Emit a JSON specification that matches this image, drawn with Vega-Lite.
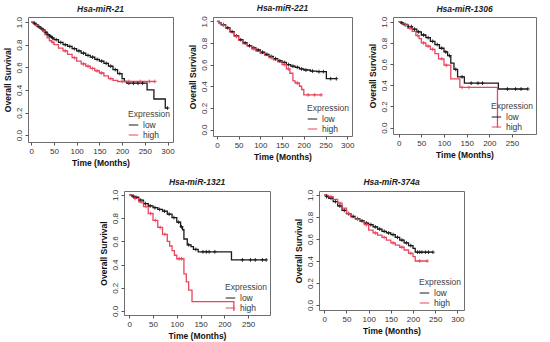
{
  "$schema": "https://vega.github.io/schema/vega-lite/v6.json",
  "padding": {"left": 2, "top": 3, "right": 4, "bottom": 2},
  "background": "white",
  "config": {
    "font": "Liberation Sans",
    "view": {"stroke": "#6e6e6e", "strokeWidth": 1},
    "axis": {"labelFont": "Liberation Sans", "labelFontSize": 8, "labelColor": "#333", "titleFont": "Liberation Sans", "titleFontSize": 8.5, "titleFontWeight": "bold", "titleColor": "#111", "domain": false, "grid": false, "tickColor": "#555", "tickSize": 3, "labelPadding": 2, "titlePadding": 3, "labelOverlap": false, "labelFlush": false},
    "axisY": {"labelAngle": 270, "labelAlign": "center", "labelBaseline": "bottom"},
    "title": {"font": "Liberation Sans", "fontSize": 8.5, "fontStyle": "italic", "fontWeight": "bold", "color": "#222", "offset": 3},
    "legend": {"orient": "bottom-right", "titleFontWeight": "normal", "titleColor": "#444", "titleFontSize": 8.5, "labelFontSize": 8.5, "labelColor": "#333", "symbolType": "stroke", "symbolSize": 90, "symbolStrokeWidth": 1, "padding": 1, "offset": 1, "rowPadding": 0, "labelFont": "Liberation Sans", "titleFont": "Liberation Sans", "titlePadding": 1}
  },
  "datasets": {
    "curves": [
      {"p":1,"g":"low","t":0,"s":1},{"p":1,"g":"low","t":5,"s":0.99},{"p":1,"g":"low","t":10,"s":0.975},{"p":1,"g":"low","t":15,"s":0.96},{"p":1,"g":"low","t":20,"s":0.945},{"p":1,"g":"low","t":25,"s":0.93},{"p":1,"g":"low","t":30,"s":0.91},{"p":1,"g":"low","t":35,"s":0.89},{"p":1,"g":"low","t":40,"s":0.875},{"p":1,"g":"low","t":45,"s":0.86},{"p":1,"g":"low","t":50,"s":0.845},{"p":1,"g":"low","t":60,"s":0.82},{"p":1,"g":"low","t":70,"s":0.8},{"p":1,"g":"low","t":80,"s":0.785},{"p":1,"g":"low","t":90,"s":0.765},{"p":1,"g":"low","t":100,"s":0.745},{"p":1,"g":"low","t":110,"s":0.725},{"p":1,"g":"low","t":120,"s":0.705},{"p":1,"g":"low","t":130,"s":0.69},{"p":1,"g":"low","t":140,"s":0.67},{"p":1,"g":"low","t":150,"s":0.655},{"p":1,"g":"low","t":160,"s":0.635},{"p":1,"g":"low","t":170,"s":0.61},{"p":1,"g":"low","t":180,"s":0.58},{"p":1,"g":"low","t":190,"s":0.545},{"p":1,"g":"low","t":200,"s":0.5},{"p":1,"g":"low","t":205,"s":0.475},{"p":1,"g":"low","t":210,"s":0.46},{"p":1,"g":"low","t":255,"s":0.4},{"p":1,"g":"low","t":270,"s":0.32},{"p":1,"g":"low","t":295,"s":0.24},{"p":1,"g":"low","t":300,"s":0.24},
      {"p":1,"g":"high","t":0,"s":1},{"p":1,"g":"high","t":5,"s":0.985},{"p":1,"g":"high","t":10,"s":0.97},{"p":1,"g":"high","t":15,"s":0.955},{"p":1,"g":"high","t":20,"s":0.94},{"p":1,"g":"high","t":25,"s":0.92},{"p":1,"g":"high","t":30,"s":0.89},{"p":1,"g":"high","t":35,"s":0.86},{"p":1,"g":"high","t":40,"s":0.835},{"p":1,"g":"high","t":45,"s":0.82},{"p":1,"g":"high","t":50,"s":0.8},{"p":1,"g":"high","t":60,"s":0.77},{"p":1,"g":"high","t":70,"s":0.745},{"p":1,"g":"high","t":80,"s":0.715},{"p":1,"g":"high","t":90,"s":0.685},{"p":1,"g":"high","t":100,"s":0.655},{"p":1,"g":"high","t":110,"s":0.63},{"p":1,"g":"high","t":120,"s":0.61},{"p":1,"g":"high","t":130,"s":0.59},{"p":1,"g":"high","t":140,"s":0.57},{"p":1,"g":"high","t":150,"s":0.55},{"p":1,"g":"high","t":160,"s":0.525},{"p":1,"g":"high","t":170,"s":0.5},{"p":1,"g":"high","t":180,"s":0.485},{"p":1,"g":"high","t":190,"s":0.475},{"p":1,"g":"high","t":272,"s":0.475},
      {"p":2,"g":"low","t":0,"s":1},{"p":2,"g":"low","t":5,"s":0.985},{"p":2,"g":"low","t":10,"s":0.97},{"p":2,"g":"low","t":20,"s":0.94},{"p":2,"g":"low","t":30,"s":0.905},{"p":2,"g":"low","t":40,"s":0.865},{"p":2,"g":"low","t":50,"s":0.83},{"p":2,"g":"low","t":60,"s":0.8},{"p":2,"g":"low","t":70,"s":0.775},{"p":2,"g":"low","t":80,"s":0.755},{"p":2,"g":"low","t":90,"s":0.735},{"p":2,"g":"low","t":100,"s":0.715},{"p":2,"g":"low","t":110,"s":0.695},{"p":2,"g":"low","t":120,"s":0.675},{"p":2,"g":"low","t":130,"s":0.655},{"p":2,"g":"low","t":140,"s":0.635},{"p":2,"g":"low","t":150,"s":0.62},{"p":2,"g":"low","t":160,"s":0.6},{"p":2,"g":"low","t":170,"s":0.585},{"p":2,"g":"low","t":180,"s":0.575},{"p":2,"g":"low","t":190,"s":0.56},{"p":2,"g":"low","t":200,"s":0.55},{"p":2,"g":"low","t":215,"s":0.54},{"p":2,"g":"low","t":230,"s":0.535},{"p":2,"g":"low","t":252,"s":0.47},{"p":2,"g":"low","t":275,"s":0.47},
      {"p":2,"g":"high","t":0,"s":1},{"p":2,"g":"high","t":5,"s":0.98},{"p":2,"g":"high","t":10,"s":0.965},{"p":2,"g":"high","t":20,"s":0.935},{"p":2,"g":"high","t":30,"s":0.9},{"p":2,"g":"high","t":40,"s":0.86},{"p":2,"g":"high","t":50,"s":0.825},{"p":2,"g":"high","t":60,"s":0.795},{"p":2,"g":"high","t":70,"s":0.77},{"p":2,"g":"high","t":80,"s":0.745},{"p":2,"g":"high","t":90,"s":0.725},{"p":2,"g":"high","t":100,"s":0.705},{"p":2,"g":"high","t":110,"s":0.685},{"p":2,"g":"high","t":120,"s":0.665},{"p":2,"g":"high","t":130,"s":0.645},{"p":2,"g":"high","t":140,"s":0.625},{"p":2,"g":"high","t":150,"s":0.6},{"p":2,"g":"high","t":160,"s":0.56},{"p":2,"g":"high","t":168,"s":0.52},{"p":2,"g":"high","t":175,"s":0.45},{"p":2,"g":"high","t":180,"s":0.43},{"p":2,"g":"high","t":190,"s":0.4},{"p":2,"g":"high","t":195,"s":0.37},{"p":2,"g":"high","t":200,"s":0.32},{"p":2,"g":"high","t":240,"s":0.32},
      {"p":3,"g":"low","t":0,"s":1},{"p":3,"g":"low","t":5,"s":0.99},{"p":3,"g":"low","t":10,"s":0.975},{"p":3,"g":"low","t":20,"s":0.955},{"p":3,"g":"low","t":30,"s":0.93},{"p":3,"g":"low","t":40,"s":0.905},{"p":3,"g":"low","t":50,"s":0.875},{"p":3,"g":"low","t":60,"s":0.85},{"p":3,"g":"low","t":70,"s":0.815},{"p":3,"g":"low","t":80,"s":0.785},{"p":3,"g":"low","t":90,"s":0.75},{"p":3,"g":"low","t":100,"s":0.715},{"p":3,"g":"low","t":108,"s":0.68},{"p":3,"g":"low","t":115,"s":0.61},{"p":3,"g":"low","t":122,"s":0.55},{"p":3,"g":"low","t":130,"s":0.48},{"p":3,"g":"low","t":145,"s":0.42},{"p":3,"g":"low","t":220,"s":0.365},{"p":3,"g":"low","t":285,"s":0.365},
      {"p":3,"g":"high","t":0,"s":1},{"p":3,"g":"high","t":5,"s":0.985},{"p":3,"g":"high","t":10,"s":0.97},{"p":3,"g":"high","t":20,"s":0.94},{"p":3,"g":"high","t":30,"s":0.91},{"p":3,"g":"high","t":38,"s":0.87},{"p":3,"g":"high","t":45,"s":0.84},{"p":3,"g":"high","t":50,"s":0.8},{"p":3,"g":"high","t":60,"s":0.77},{"p":3,"g":"high","t":70,"s":0.74},{"p":3,"g":"high","t":80,"s":0.7},{"p":3,"g":"high","t":88,"s":0.65},{"p":3,"g":"high","t":100,"s":0.59},{"p":3,"g":"high","t":115,"s":0.46},{"p":3,"g":"high","t":135,"s":0.38},{"p":3,"g":"high","t":218,"s":0.0},
      {"p":4,"g":"low","t":0,"s":1},{"p":4,"g":"low","t":5,"s":0.99},{"p":4,"g":"low","t":10,"s":0.98},{"p":4,"g":"low","t":20,"s":0.955},{"p":4,"g":"low","t":30,"s":0.925},{"p":4,"g":"low","t":40,"s":0.905},{"p":4,"g":"low","t":50,"s":0.89},{"p":4,"g":"low","t":60,"s":0.875},{"p":4,"g":"low","t":70,"s":0.86},{"p":4,"g":"low","t":80,"s":0.835},{"p":4,"g":"low","t":90,"s":0.805},{"p":4,"g":"low","t":100,"s":0.765},{"p":4,"g":"low","t":108,"s":0.725},{"p":4,"g":"low","t":112,"s":0.7},{"p":4,"g":"low","t":115,"s":0.62},{"p":4,"g":"low","t":122,"s":0.57},{"p":4,"g":"low","t":130,"s":0.555},{"p":4,"g":"low","t":135,"s":0.53},{"p":4,"g":"low","t":145,"s":0.51},{"p":4,"g":"low","t":215,"s":0.44},{"p":4,"g":"low","t":288,"s":0.44},
      {"p":4,"g":"high","t":0,"s":1},{"p":4,"g":"high","t":5,"s":0.985},{"p":4,"g":"high","t":10,"s":0.97},{"p":4,"g":"high","t":20,"s":0.94},{"p":4,"g":"high","t":30,"s":0.9},{"p":4,"g":"high","t":40,"s":0.84},{"p":4,"g":"high","t":50,"s":0.78},{"p":4,"g":"high","t":60,"s":0.72},{"p":4,"g":"high","t":70,"s":0.66},{"p":4,"g":"high","t":80,"s":0.6},{"p":4,"g":"high","t":85,"s":0.56},{"p":4,"g":"high","t":90,"s":0.52},{"p":4,"g":"high","t":95,"s":0.48},{"p":4,"g":"high","t":100,"s":0.45},{"p":4,"g":"high","t":115,"s":0.32},{"p":4,"g":"high","t":120,"s":0.25},{"p":4,"g":"high","t":125,"s":0.18},{"p":4,"g":"high","t":132,"s":0.08},{"p":4,"g":"high","t":220,"s":0.0},
      {"p":5,"g":"low","t":0,"s":1},{"p":5,"g":"low","t":5,"s":0.985},{"p":5,"g":"low","t":10,"s":0.97},{"p":5,"g":"low","t":20,"s":0.94},{"p":5,"g":"low","t":30,"s":0.9},{"p":5,"g":"low","t":40,"s":0.86},{"p":5,"g":"low","t":50,"s":0.83},{"p":5,"g":"low","t":60,"s":0.805},{"p":5,"g":"low","t":70,"s":0.785},{"p":5,"g":"low","t":80,"s":0.765},{"p":5,"g":"low","t":90,"s":0.745},{"p":5,"g":"low","t":100,"s":0.73},{"p":5,"g":"low","t":110,"s":0.71},{"p":5,"g":"low","t":120,"s":0.69},{"p":5,"g":"low","t":130,"s":0.67},{"p":5,"g":"low","t":140,"s":0.655},{"p":5,"g":"low","t":150,"s":0.64},{"p":5,"g":"low","t":160,"s":0.615},{"p":5,"g":"low","t":170,"s":0.59},{"p":5,"g":"low","t":180,"s":0.565},{"p":5,"g":"low","t":190,"s":0.54},{"p":5,"g":"low","t":200,"s":0.515},{"p":5,"g":"low","t":205,"s":0.48},{"p":5,"g":"low","t":245,"s":0.48},
      {"p":5,"g":"high","t":0,"s":1},{"p":5,"g":"high","t":5,"s":0.995},{"p":5,"g":"high","t":10,"s":0.985},{"p":5,"g":"high","t":20,"s":0.96},{"p":5,"g":"high","t":30,"s":0.925},{"p":5,"g":"high","t":40,"s":0.88},{"p":5,"g":"high","t":50,"s":0.83},{"p":5,"g":"high","t":60,"s":0.8},{"p":5,"g":"high","t":70,"s":0.78},{"p":5,"g":"high","t":80,"s":0.76},{"p":5,"g":"high","t":90,"s":0.73},{"p":5,"g":"high","t":100,"s":0.68},{"p":5,"g":"high","t":110,"s":0.655},{"p":5,"g":"high","t":120,"s":0.635},{"p":5,"g":"high","t":130,"s":0.615},{"p":5,"g":"high","t":140,"s":0.59},{"p":5,"g":"high","t":150,"s":0.565},{"p":5,"g":"high","t":160,"s":0.545},{"p":5,"g":"high","t":170,"s":0.525},{"p":5,"g":"high","t":180,"s":0.5},{"p":5,"g":"high","t":190,"s":0.47},{"p":5,"g":"high","t":200,"s":0.44},{"p":5,"g":"high","t":205,"s":0.4},{"p":5,"g":"high","t":232,"s":0.4}
    ],
    "censors": [
      {"p":1,"g":"low","t":7,"s":0.99},{"p":1,"g":"low","t":12,"s":0.975},{"p":1,"g":"low","t":17,"s":0.96},{"p":1,"g":"low","t":22,"s":0.945},{"p":1,"g":"low","t":27,"s":0.93},{"p":1,"g":"low","t":32,"s":0.91},{"p":1,"g":"low","t":37,"s":0.89},{"p":1,"g":"low","t":42,"s":0.875},{"p":1,"g":"low","t":47,"s":0.86},{"p":1,"g":"low","t":55,"s":0.845},{"p":1,"g":"low","t":65,"s":0.82},{"p":1,"g":"low","t":75,"s":0.8},{"p":1,"g":"low","t":85,"s":0.785},{"p":1,"g":"low","t":95,"s":0.765},{"p":1,"g":"low","t":105,"s":0.745},{"p":1,"g":"low","t":115,"s":0.725},{"p":1,"g":"low","t":125,"s":0.705},{"p":1,"g":"low","t":135,"s":0.69},{"p":1,"g":"low","t":145,"s":0.67},{"p":1,"g":"low","t":155,"s":0.655},{"p":1,"g":"low","t":165,"s":0.635},{"p":1,"g":"low","t":175,"s":0.61},{"p":1,"g":"low","t":185,"s":0.58},{"p":1,"g":"low","t":195,"s":0.545},{"p":1,"g":"low","t":215,"s":0.46},{"p":1,"g":"low","t":225,"s":0.46},{"p":1,"g":"low","t":235,"s":0.46},{"p":1,"g":"low","t":245,"s":0.46},{"p":1,"g":"low","t":300,"s":0.24},
      {"p":1,"g":"high","t":12,"s":0.97},{"p":1,"g":"high","t":28,"s":0.92},{"p":1,"g":"high","t":48,"s":0.82},{"p":1,"g":"high","t":75,"s":0.745},{"p":1,"g":"high","t":95,"s":0.685},{"p":1,"g":"high","t":115,"s":0.63},{"p":1,"g":"high","t":125,"s":0.61},{"p":1,"g":"high","t":135,"s":0.59},{"p":1,"g":"high","t":145,"s":0.57},{"p":1,"g":"high","t":155,"s":0.55},{"p":1,"g":"high","t":175,"s":0.5},{"p":1,"g":"high","t":200,"s":0.475},{"p":1,"g":"high","t":215,"s":0.475},{"p":1,"g":"high","t":240,"s":0.475},{"p":1,"g":"high","t":260,"s":0.475},{"p":1,"g":"high","t":272,"s":0.475},
      {"p":2,"g":"low","t":15,"s":0.97},{"p":2,"g":"low","t":25,"s":0.94},{"p":2,"g":"low","t":35,"s":0.905},{"p":2,"g":"low","t":45,"s":0.865},{"p":2,"g":"low","t":55,"s":0.83},{"p":2,"g":"low","t":65,"s":0.8},{"p":2,"g":"low","t":75,"s":0.775},{"p":2,"g":"low","t":85,"s":0.755},{"p":2,"g":"low","t":95,"s":0.735},{"p":2,"g":"low","t":105,"s":0.715},{"p":2,"g":"low","t":115,"s":0.695},{"p":2,"g":"low","t":125,"s":0.675},{"p":2,"g":"low","t":135,"s":0.655},{"p":2,"g":"low","t":145,"s":0.635},{"p":2,"g":"low","t":155,"s":0.62},{"p":2,"g":"low","t":165,"s":0.6},{"p":2,"g":"low","t":175,"s":0.585},{"p":2,"g":"low","t":185,"s":0.575},{"p":2,"g":"low","t":195,"s":0.56},{"p":2,"g":"low","t":205,"s":0.55},{"p":2,"g":"low","t":220,"s":0.54},{"p":2,"g":"low","t":235,"s":0.535},{"p":2,"g":"low","t":245,"s":0.535},{"p":2,"g":"low","t":262,"s":0.47},{"p":2,"g":"low","t":275,"s":0.47},
      {"p":2,"g":"high","t":15,"s":0.965},{"p":2,"g":"high","t":45,"s":0.86},{"p":2,"g":"high","t":85,"s":0.745},{"p":2,"g":"high","t":125,"s":0.665},{"p":2,"g":"high","t":155,"s":0.6},{"p":2,"g":"high","t":165,"s":0.56},{"p":2,"g":"high","t":185,"s":0.43},{"p":2,"g":"high","t":210,"s":0.32},{"p":2,"g":"high","t":225,"s":0.32},{"p":2,"g":"high","t":240,"s":0.32},
      {"p":3,"g":"low","t":7,"s":0.99},{"p":3,"g":"low","t":14,"s":0.975},{"p":3,"g":"low","t":22,"s":0.955},{"p":3,"g":"low","t":28,"s":0.955},{"p":3,"g":"low","t":35,"s":0.93},{"p":3,"g":"low","t":44,"s":0.905},{"p":3,"g":"low","t":55,"s":0.875},{"p":3,"g":"low","t":65,"s":0.85},{"p":3,"g":"low","t":75,"s":0.815},{"p":3,"g":"low","t":85,"s":0.785},{"p":3,"g":"low","t":95,"s":0.75},{"p":3,"g":"low","t":104,"s":0.715},{"p":3,"g":"low","t":112,"s":0.68},{"p":3,"g":"low","t":126,"s":0.55},{"p":3,"g":"low","t":140,"s":0.48},{"p":3,"g":"low","t":160,"s":0.42},{"p":3,"g":"low","t":175,"s":0.42},{"p":3,"g":"low","t":185,"s":0.42},{"p":3,"g":"low","t":240,"s":0.365},{"p":3,"g":"low","t":258,"s":0.365},{"p":3,"g":"low","t":270,"s":0.365},{"p":3,"g":"low","t":285,"s":0.365},
      {"p":3,"g":"high","t":15,"s":0.97},{"p":3,"g":"high","t":25,"s":0.94},{"p":3,"g":"high","t":42,"s":0.87},{"p":3,"g":"high","t":55,"s":0.8},{"p":3,"g":"high","t":65,"s":0.77},{"p":3,"g":"high","t":75,"s":0.74},{"p":3,"g":"high","t":95,"s":0.65},{"p":3,"g":"high","t":105,"s":0.59},{"p":3,"g":"high","t":140,"s":0.38},{"p":3,"g":"high","t":155,"s":0.38},
      {"p":4,"g":"low","t":8,"s":0.99},{"p":4,"g":"low","t":14,"s":0.98},{"p":4,"g":"low","t":24,"s":0.955},{"p":4,"g":"low","t":34,"s":0.925},{"p":4,"g":"low","t":44,"s":0.905},{"p":4,"g":"low","t":54,"s":0.89},{"p":4,"g":"low","t":64,"s":0.875},{"p":4,"g":"low","t":74,"s":0.86},{"p":4,"g":"low","t":84,"s":0.835},{"p":4,"g":"low","t":94,"s":0.805},{"p":4,"g":"low","t":104,"s":0.765},{"p":4,"g":"low","t":110,"s":0.725},{"p":4,"g":"low","t":125,"s":0.57},{"p":4,"g":"low","t":140,"s":0.53},{"p":4,"g":"low","t":155,"s":0.51},{"p":4,"g":"low","t":162,"s":0.51},{"p":4,"g":"low","t":168,"s":0.51},{"p":4,"g":"low","t":180,"s":0.51},{"p":4,"g":"low","t":238,"s":0.44},{"p":4,"g":"low","t":255,"s":0.44},{"p":4,"g":"low","t":265,"s":0.44},{"p":4,"g":"low","t":280,"s":0.44},{"p":4,"g":"low","t":288,"s":0.44},
      {"p":4,"g":"high","t":12,"s":0.97},{"p":4,"g":"high","t":25,"s":0.94},{"p":4,"g":"high","t":35,"s":0.9},{"p":4,"g":"high","t":45,"s":0.84},{"p":4,"g":"high","t":55,"s":0.78},{"p":4,"g":"high","t":65,"s":0.72},{"p":4,"g":"high","t":75,"s":0.66},{"p":4,"g":"high","t":105,"s":0.45},{"p":4,"g":"high","t":110,"s":0.45},
      {"p":5,"g":"low","t":5,"s":0.985},{"p":5,"g":"low","t":15,"s":0.97},{"p":5,"g":"low","t":25,"s":0.94},{"p":5,"g":"low","t":35,"s":0.9},{"p":5,"g":"low","t":45,"s":0.86},{"p":5,"g":"low","t":55,"s":0.83},{"p":5,"g":"low","t":65,"s":0.805},{"p":5,"g":"low","t":75,"s":0.785},{"p":5,"g":"low","t":85,"s":0.765},{"p":5,"g":"low","t":95,"s":0.745},{"p":5,"g":"low","t":105,"s":0.73},{"p":5,"g":"low","t":115,"s":0.71},{"p":5,"g":"low","t":125,"s":0.69},{"p":5,"g":"low","t":135,"s":0.67},{"p":5,"g":"low","t":145,"s":0.655},{"p":5,"g":"low","t":155,"s":0.64},{"p":5,"g":"low","t":165,"s":0.615},{"p":5,"g":"low","t":175,"s":0.59},{"p":5,"g":"low","t":185,"s":0.565},{"p":5,"g":"low","t":195,"s":0.54},{"p":5,"g":"low","t":210,"s":0.48},{"p":5,"g":"low","t":215,"s":0.48},{"p":5,"g":"low","t":220,"s":0.48},{"p":5,"g":"low","t":228,"s":0.48},{"p":5,"g":"low","t":235,"s":0.48},{"p":5,"g":"low","t":245,"s":0.48},
      {"p":5,"g":"high","t":15,"s":0.985},{"p":5,"g":"high","t":35,"s":0.925},{"p":5,"g":"high","t":55,"s":0.83},{"p":5,"g":"high","t":75,"s":0.78},{"p":5,"g":"high","t":95,"s":0.73},{"p":5,"g":"high","t":115,"s":0.655},{"p":5,"g":"high","t":135,"s":0.615},{"p":5,"g":"high","t":155,"s":0.565},{"p":5,"g":"high","t":175,"s":0.525},{"p":5,"g":"high","t":195,"s":0.47},{"p":5,"g":"high","t":215,"s":0.4},{"p":5,"g":"high","t":232,"s":0.4}
    ],
    "pvals": [
      {"p":1,"pv":"=0.0002"},{"p":2,"pv":"=0.005"},{"p":3,"pv":"=0.003"},{"p":4,"pv":"=0.051"},{"p":5,"pv":"=0.004"}
    ]
  },
  "spacing": 10,
  "resolve": {"scale": {"color": "independent", "x": "independent", "y": "independent"}, "legend": {"color": "independent"}},
  "vconcat": [
    {
      "spacing": 12,
      "resolve": {"scale": {"color": "independent", "x": "independent", "y": "independent"}, "legend": {"color": "independent"}},
      "hconcat": [
        {
          "width": 145, "height": 125,
          "title": "Hsa-miR-21",
          "encoding": {
            "x": {"field": "t", "type": "quantitative", "title": "Time (Months)", "scale": {"domain": [-7, 312], "nice": false, "zero": false}, "axis": {"values": [0,50,100,150,200,250,300], "labelOverlap": false}},
            "y": {"field": "s", "type": "quantitative", "title": "Overall Survival", "scale": {"domain": [-0.06, 1.045], "nice": false}, "axis": {"values": [0,0.2,0.4,0.6,0.8,1], "format": ".1f", "labelOverlap": false}}
          },
          "layer": [
            {"data": {"name": "curves"}, "transform": [{"filter": "datum.p == 1"}], "mark": {"type": "line", "interpolate": "step-after", "strokeWidth": 1.3},
             "encoding": {"color": {"field": "g", "type": "nominal", "title": "Expression", "scale": {"domain": ["low", "high"], "range": ["#1a1a1a", "#e8475f"]}}}},
            {"data": {"name": "censors"}, "transform": [{"filter": "datum.p == 1"}], "mark": {"type": "point", "shape": "M-1,0H1M0,-1V1", "size": 14, "filled": false, "strokeWidth": 0.9, "opacity": 1},
             "encoding": {"color": {"condition": {"test": "datum.g == 'high'", "value": "#e8475f"}, "value": "#1a1a1a"}}},
            {"data": {"name": "pvals"}, "transform": [{"filter": "datum.p == 1"}], "mark": {"type": "text", "text": "p", "fontStyle": "italic", "fontWeight": "bold", "fontSize": 10, "align": "right", "color": "#111"},
             "encoding": {"x": {"datum": 210}, "y": {"datum": 0.92}}},
            {"data": {"name": "pvals"}, "transform": [{"filter": "datum.p == 1"}], "mark": {"type": "text", "fontWeight": "bold", "fontSize": 10, "align": "left", "color": "#111"},
             "encoding": {"x": {"datum": 210}, "y": {"datum": 0.92}, "text": {"field": "pv"}}}
          ]
        },
        {
          "width": 139, "height": 119,
          "title": "Hsa-miR-221",
          "encoding": {
            "x": {"field": "t", "type": "quantitative", "title": "Time (Months)", "scale": {"domain": [-9, 311], "nice": false, "zero": false}, "axis": {"values": [0,50,100,150,200,250,300], "labelOverlap": false}},
            "y": {"field": "s", "type": "quantitative", "title": "Overall Survival", "scale": {"domain": [-0.06, 1.04], "nice": false}, "axis": {"values": [0,0.2,0.4,0.6,0.8,1], "format": ".1f", "labelOverlap": false}}
          },
          "layer": [
            {"data": {"name": "curves"}, "transform": [{"filter": "datum.p == 2"}], "mark": {"type": "line", "interpolate": "step-after", "strokeWidth": 1.3},
             "encoding": {"color": {"field": "g", "type": "nominal", "title": "Expression", "scale": {"domain": ["low", "high"], "range": ["#1a1a1a", "#e8475f"]}}}},
            {"data": {"name": "censors"}, "transform": [{"filter": "datum.p == 2"}], "mark": {"type": "point", "shape": "M-1,0H1M0,-1V1", "size": 14, "filled": false, "strokeWidth": 0.9, "opacity": 1},
             "encoding": {"color": {"condition": {"test": "datum.g == 'high'", "value": "#e8475f"}, "value": "#1a1a1a"}}},
            {"data": {"name": "pvals"}, "transform": [{"filter": "datum.p == 2"}], "mark": {"type": "text", "text": "p", "fontStyle": "italic", "fontWeight": "bold", "fontSize": 10, "align": "right", "color": "#111"},
             "encoding": {"x": {"datum": 213}, "y": {"datum": 0.86}}},
            {"data": {"name": "pvals"}, "transform": [{"filter": "datum.p == 2"}], "mark": {"type": "text", "fontWeight": "bold", "fontSize": 10, "align": "left", "color": "#111"},
             "encoding": {"x": {"datum": 213}, "y": {"datum": 0.86}, "text": {"field": "pv"}}}
          ]
        },
        {
          "width": 143, "height": 117,
          "title": "Hsa-miR-1306",
          "encoding": {
            "x": {"field": "t", "type": "quantitative", "title": "Time (Months)", "scale": {"domain": [-12.5, 303], "nice": false, "zero": false}, "axis": {"values": [0,50,100,150,200,250], "labelOverlap": false}},
            "y": {"field": "s", "type": "quantitative", "title": "Overall Survival", "scale": {"domain": [-0.06, 1.045], "nice": false}, "axis": {"values": [0,0.2,0.4,0.6,0.8,1], "format": ".1f", "labelOverlap": false}}
          },
          "layer": [
            {"data": {"name": "curves"}, "transform": [{"filter": "datum.p == 3"}], "mark": {"type": "line", "interpolate": "step-after", "strokeWidth": 1.3},
             "encoding": {"color": {"field": "g", "type": "nominal", "title": "Expression", "scale": {"domain": ["low", "high"], "range": ["#1a1a1a", "#e8475f"]}}}},
            {"data": {"name": "censors"}, "transform": [{"filter": "datum.p == 3"}], "mark": {"type": "point", "shape": "M-1,0H1M0,-1V1", "size": 14, "filled": false, "strokeWidth": 0.9, "opacity": 1},
             "encoding": {"color": {"condition": {"test": "datum.g == 'high'", "value": "#e8475f"}, "value": "#1a1a1a"}}},
            {"data": {"name": "pvals"}, "transform": [{"filter": "datum.p == 3"}], "mark": {"type": "text", "text": "p", "fontStyle": "italic", "fontWeight": "bold", "fontSize": 10, "align": "right", "color": "#111"},
             "encoding": {"x": {"datum": 212}, "y": {"datum": 0.86}}},
            {"data": {"name": "pvals"}, "transform": [{"filter": "datum.p == 3"}], "mark": {"type": "text", "fontWeight": "bold", "fontSize": 10, "align": "left", "color": "#111"},
             "encoding": {"x": {"datum": 212}, "y": {"datum": 0.86}, "text": {"field": "pv"}}}
          ]
        }
      ]
    },
    {
      "spacing": 22,
      "resolve": {"scale": {"color": "independent", "x": "independent", "y": "independent"}, "legend": {"color": "independent"}},
      "hconcat": [
        {
          "width": 48, "height": 124,
          "view": {"stroke": null},
          "data": {"values": []},
          "mark": {"type": "text", "text": ""},
          "encoding": {}
        },
        {
          "width": 146, "height": 124,
          "title": "Hsa-miR-1321",
          "encoding": {
            "x": {"field": "t", "type": "quantitative", "title": "Time (Months)", "scale": {"domain": [-11, 296], "nice": false, "zero": false}, "axis": {"values": [0,50,100,150,200,250], "labelOverlap": false}},
            "y": {"field": "s", "type": "quantitative", "title": "Overall Survival", "scale": {"domain": [-0.035, 1.034], "nice": false}, "axis": {"values": [0,0.2,0.4,0.6,0.8,1], "format": ".1f", "labelOverlap": false}}
          },
          "layer": [
            {"data": {"name": "curves"}, "transform": [{"filter": "datum.p == 4"}], "mark": {"type": "line", "interpolate": "step-after", "strokeWidth": 1.3},
             "encoding": {"color": {"field": "g", "type": "nominal", "title": "Expression", "scale": {"domain": ["low", "high"], "range": ["#1a1a1a", "#e8475f"]}}}},
            {"data": {"name": "censors"}, "transform": [{"filter": "datum.p == 4"}], "mark": {"type": "point", "shape": "M-1,0H1M0,-1V1", "size": 14, "filled": false, "strokeWidth": 0.9, "opacity": 1},
             "encoding": {"color": {"condition": {"test": "datum.g == 'high'", "value": "#e8475f"}, "value": "#1a1a1a"}}},
            {"data": {"name": "pvals"}, "transform": [{"filter": "datum.p == 4"}], "mark": {"type": "text", "text": "p", "fontStyle": "italic", "fontWeight": "bold", "fontSize": 10, "align": "right", "color": "#111"},
             "encoding": {"x": {"datum": 198}, "y": {"datum": 0.925}}},
            {"data": {"name": "pvals"}, "transform": [{"filter": "datum.p == 4"}], "mark": {"type": "text", "fontWeight": "bold", "fontSize": 10, "align": "left", "color": "#111"},
             "encoding": {"x": {"datum": 198}, "y": {"datum": 0.925}, "text": {"field": "pv"}}}
          ]
        },
        {
          "width": 145, "height": 119,
          "title": "Hsa-miR-374a",
          "encoding": {
            "x": {"field": "t", "type": "quantitative", "title": "Time (Months)", "scale": {"domain": [-12, 315], "nice": false, "zero": false}, "axis": {"values": [0,50,100,150,200,250,300], "labelOverlap": false}},
            "y": {"field": "s", "type": "quantitative", "title": "Overall Survival", "scale": {"domain": [-0.045, 1.036], "nice": false}, "axis": {"values": [0,0.2,0.4,0.6,0.8,1], "format": ".1f", "labelOverlap": false}}
          },
          "layer": [
            {"data": {"name": "curves"}, "transform": [{"filter": "datum.p == 5"}], "mark": {"type": "line", "interpolate": "step-after", "strokeWidth": 1.3},
             "encoding": {"color": {"field": "g", "type": "nominal", "title": "Expression", "scale": {"domain": ["low", "high"], "range": ["#1a1a1a", "#e8475f"]}}}},
            {"data": {"name": "censors"}, "transform": [{"filter": "datum.p == 5"}], "mark": {"type": "point", "shape": "M-1,0H1M0,-1V1", "size": 14, "filled": false, "strokeWidth": 0.9, "opacity": 1},
             "encoding": {"color": {"condition": {"test": "datum.g == 'high'", "value": "#e8475f"}, "value": "#1a1a1a"}}},
            {"data": {"name": "pvals"}, "transform": [{"filter": "datum.p == 5"}], "mark": {"type": "text", "text": "p", "fontStyle": "italic", "fontWeight": "bold", "fontSize": 10, "align": "right", "color": "#111"},
             "encoding": {"x": {"datum": 220}, "y": {"datum": 0.89}}},
            {"data": {"name": "pvals"}, "transform": [{"filter": "datum.p == 5"}], "mark": {"type": "text", "fontWeight": "bold", "fontSize": 10, "align": "left", "color": "#111"},
             "encoding": {"x": {"datum": 220}, "y": {"datum": 0.89}, "text": {"field": "pv"}}}
          ]
        }
      ]
    }
  ]
}
